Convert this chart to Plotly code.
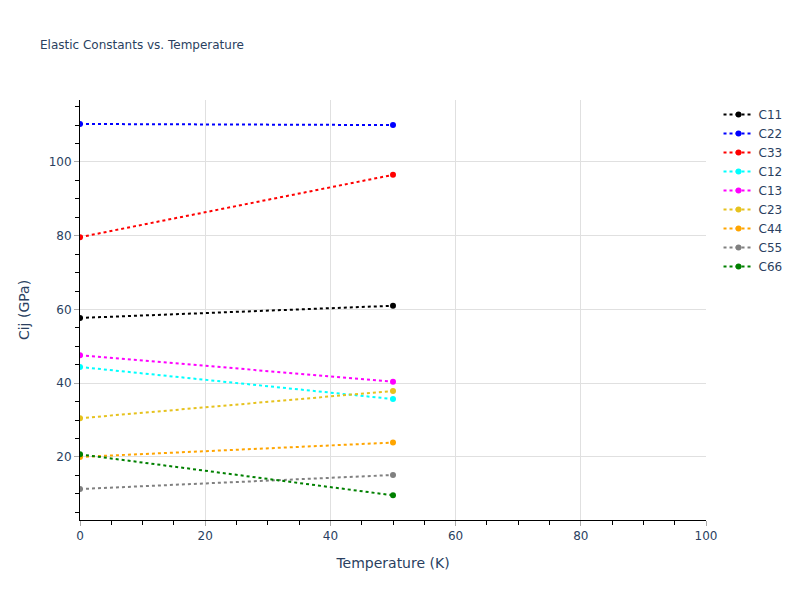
import plotly.graph_objects as go

temperature = [0, 50]
names = ["C11", "C22", "C33", "C12", "C13", "C23", "C44", "C55", "C66"]
c11 = [57.7, 61.0]
c22 = [110.3, 110.0]
c33 = [79.6, 96.5]
c12 = [44.4, 35.7]
c13 = [47.6, 40.4]
c23 = [30.5, 37.9]
c44 = [20.0, 23.9]
c55 = [11.3, 15.1]
c66 = [20.7, 9.6]
series = [c11, c22, c33, c12, c13, c23, c44, c55, c66]
colors = ["black", "blue", "red", "cyan", "magenta", "#e6c21e", "orange", "gray", "green"]

fig = go.Figure()
for n, vals, col in zip(names, series, colors):
    fig.add_trace(go.Scatter(
        x=temperature, y=vals, name=n, mode="lines+markers",
        line=dict(color=col, dash="dot", width=2),
        marker=dict(color=col, size=6),
    ))

fig.update_layout(
    width=792, height=592,
    font=dict(family="DejaVu Sans"),
    title=dict(text="Elastic Constants vs. Temperature", x=0.0404, xanchor="left",
               y=0.9375, yanchor="middle", font=dict(size=12)),
    plot_bgcolor="white", paper_bgcolor="white",
    margin=dict(l=72, r=80, t=92, b=80),
    legend=dict(font=dict(size=12)),
)
axis_common = dict(
    showline=True, linecolor="black", linewidth=1,
    showgrid=True, gridcolor="#e0e0e0", gridwidth=1,
    ticks="outside", tickcolor="#aaaaaa", ticklen=5,
    zeroline=False,
    minor=dict(ticks="outside", tickcolor="black", ticklen=4, showgrid=False),
)
fig.update_xaxes(title_text="Temperature (K)", range=[0, 100], dtick=20, **axis_common)
fig.update_yaxes(title_text="Cij (GPa)", range=[2.9, 116.8], dtick=20, **axis_common)

fig.write_html("out.html")
